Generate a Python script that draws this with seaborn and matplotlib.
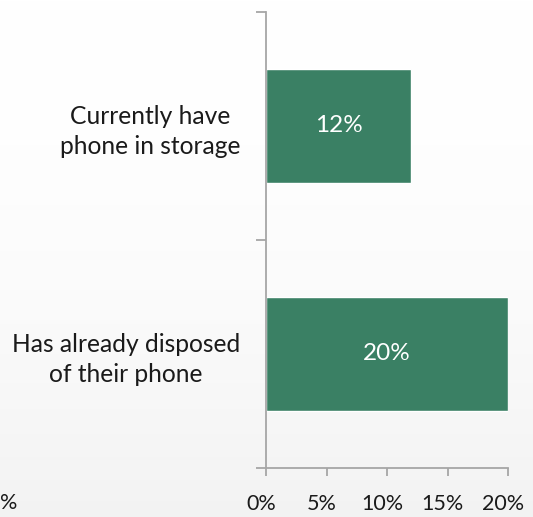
import numpy as np
import pandas as pd
import matplotlib
matplotlib.use("Agg")
import matplotlib.pyplot as plt
import matplotlib.transforms as mtransforms
import seaborn as sns

categories = ["Currently have\nphone in storage", "Has already disposed\nof their phone"]
values = [12, 20]
value_labels = ["12%", "20%"]
x_ticks = [0, 5, 10, 15, 20]
x_tick_labels = ["0%", "5%", "10%", "15%", "20%"]

sns.set_style("white")
plt.rcParams["font.family"] = ["Lato", "DejaVu Sans"]

bar_color = "#3a8064"
axis_color = "#a6a6a6"
text_color = "#1a1a1a"

fig = plt.figure(figsize=(5.33, 5.17), dpi=100)

# soft vertical background shading
bg = fig.add_axes([0, 0, 1, 1], zorder=-10)
grad = np.linspace(0, 1, 512).reshape(-1, 1)
shade = grad ** 2
rgb = np.ones((512, 1, 3)) - shade[..., None] * np.array([0.05, 0.05, 0.05])
bg.imshow(rgb, aspect="auto", extent=[0, 1, 0, 1], origin="upper")
bg.axis("off")

ax = fig.add_axes([266 / 533, 1 - 468 / 517, (508 - 266) / 533, (468 - 12) / 517])
ax.patch.set_alpha(0)

df = pd.DataFrame({"category": categories, "value": values})
sns.barplot(data=df, x="value", y="category", orient="h", color=bar_color,
            saturation=1, width=0.5, ax=ax)

ax.set_xlim(0, 20)
ax.set_ylim(1.5, -0.5)
ax.set_xlabel("")
ax.set_ylabel("")

ax.set_xticks(x_ticks)
ax.set_xticklabels(x_tick_labels)
ax.set_yticks([-0.5, 0.5, 1.5])
ax.set_yticklabels([])
ax.set_yticks([0, 1], minor=True)
ax.set_yticklabels(categories, minor=True, multialignment="center",
                   linespacing=1.35)

for side in ["top", "right"]:
    ax.spines[side].set_visible(False)
for side in ["left", "bottom"]:
    ax.spines[side].set_color(axis_color)
    ax.spines[side].set_linewidth(1.3)

ax.tick_params(axis="x", which="major", direction="out", length=6, width=1.3,
               color=axis_color, labelsize=15.5, labelcolor=text_color, pad=13,
               bottom=True)
ax.tick_params(axis="y", which="major", direction="out", length=7, width=1.3,
               color=axis_color, left=True)
ax.tick_params(axis="y", which="minor", length=0, labelsize=17.7,
               labelcolor=text_color, pad=18.5)

shift = mtransforms.ScaledTranslation(-5 / 100, 0, fig.dpi_scale_trans)
for lbl in ax.get_xticklabels():
    lbl.set_transform(lbl.get_transform() + shift)

for patch, lbl in zip(ax.patches, value_labels):
    cx = patch.get_x() + patch.get_width() / 2
    cy = patch.get_y() + patch.get_height() / 2
    ax.text(cx, cy, lbl, ha="center", va="center", color="white", fontsize=17.5)

fig.text(0.0, 1 - 503 / 517, "%", ha="left", va="center", fontsize=15.5,
         color=text_color)

fig.savefig("out.png", dpi=100)
